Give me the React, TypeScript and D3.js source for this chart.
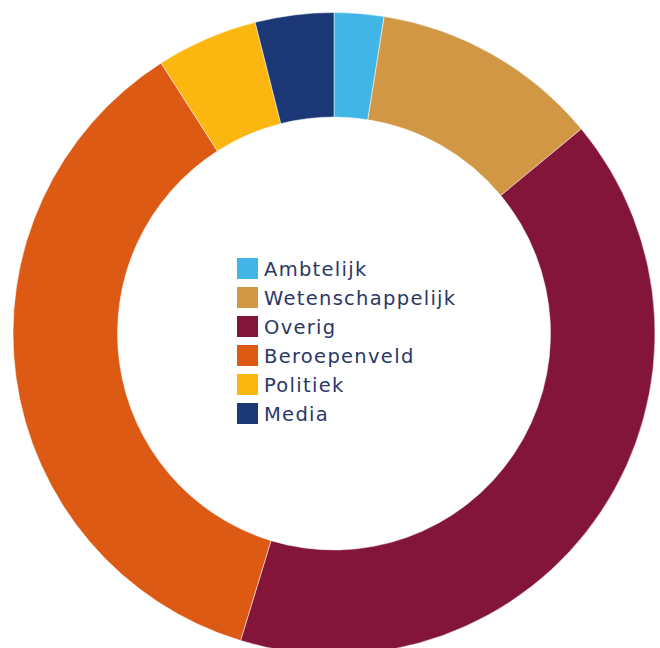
import { useEffect, useRef } from 'react';
import * as d3 from 'd3';

const categories = ['Ambtelijk', 'Wetenschappelijk', 'Overig', 'Beroepenveld', 'Politiek', 'Media'];
const values = [2.5, 11.5, 40.7, 36.25, 5.1, 3.95];
const colors = ['#41b6e6', '#d19744', '#84153a', '#dc5a14', '#fbb610', '#1b3776'];

export default function App() {
    const svgRef = useRef<SVGSVGElement>(null);

    useEffect(() => {
        if (!svgRef.current) return;
        const svg = d3.select(svgRef.current);
        svg.selectAll('*').remove();

        const width = 660;
        const height = 648;
        const cx = 334;
        const cy = 333.5;
        const outer = 321;
        const inner = 216.5;

        const data = categories.map((c, i) => ({ label: c, value: values[i], color: colors[i] }));

        const pie = d3.pie<any>().value(d => d.value).sort(null);
        const arc = d3.arc<any>().innerRadius(inner).outerRadius(outer);

        const g = svg.append('g').attr('transform', `translate(${cx},${cy})`);
        g.selectAll('path')
            .data(pie(data))
            .enter()
            .append('path')
            .attr('d', arc)
            .attr('fill', d => d.data.color)
            .attr('stroke', '#fff')
            .attr('stroke-width', 0.5);

        // Legend
        const legend = svg.append('g').attr('transform', 'translate(237,258)');
        const rows = legend.selectAll('g')
            .data(data)
            .enter()
            .append('g')
            .attr('transform', (_d, i) => `translate(0,${i * 29})`);

        rows.append('rect')
            .attr('width', 21)
            .attr('height', 21)
            .attr('fill', d => d.color);

        rows.append('text')
            .attr('x', 27)
            .attr('y', 17.5)
            .attr('font-family', 'DejaVu Sans, sans-serif')
            .attr('font-size', 19.5)
            .attr('letter-spacing', 1.3)
            .attr('fill', '#2b3866')
            .text(d => d.label);

        svg.attr('width', width).attr('height', height);
    }, []);

    return (
        <svg
            ref={svgRef}
            width={660}
            height={648}
            style={{ position: 'absolute', left: 0, top: 0, display: 'block' }}
        />
    );
}
